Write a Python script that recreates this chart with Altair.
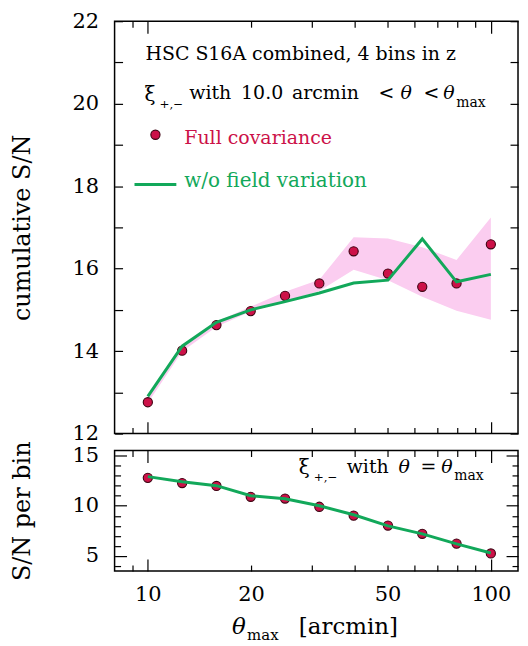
import altair as alt
import pandas as pd

FONT = "DejaVu Serif"

# ---------------- data ----------------
theta_max = [10.0, 12.59, 15.85, 19.95, 25.12, 31.62, 39.81, 50.12, 63.10, 79.43, 100.0]
cum_full = [12.76, 14.01, 14.63, 14.97, 15.34, 15.64, 16.42, 15.88, 15.56, 15.64, 16.59]
cum_nofield = [12.90, 14.12, 14.70, 15.00, 15.20, 15.41, 15.65, 15.72, 16.72, 15.68, 15.86]
band_lo = [12.74, 13.99, 14.59, 14.96, 15.20, 15.46, 15.97, 15.72, 15.32, 14.98, 14.76]
band_hi = [12.90, 14.12, 14.71, 15.08, 15.44, 15.73, 16.76, 16.73, 16.52, 16.21, 17.24]
bin_full = [12.78, 12.26, 11.97, 10.89, 10.72, 9.90, 9.02, 8.03, 7.21, 6.23, 5.25]
bin_nofield = [12.90, 12.40, 12.00, 11.00, 10.70, 10.00, 9.10, 8.00, 7.20, 6.20, 5.30]

x_major = [10, 100]
x_minor = [9, 20, 30, 40, 50, 60, 70, 80, 90]
x_labels = [10, 20, 50, 100]
y_top_ticks = [12, 13, 14, 15, 16, 17, 18, 19, 20, 21, 22]
y_bot_major = [5, 10, 15]
y_bot_minor = [4, 6, 7, 8, 9, 11, 12, 13, 14]

RED = "#cc1148"
RED_EDGE = "#3d0010"
GREEN = "#12a85a"
PINK = "#fbcdf0"

df_top = pd.DataFrame({"theta": theta_max, "full": cum_full, "nofield": cum_nofield,
                       "lo": band_lo, "hi": band_hi})
df_bot = pd.DataFrame({"theta": theta_max, "full": bin_full, "nofield": bin_nofield})
one = pd.DataFrame({"k": [0]})

W, H1, H2 = 405, 414, 121
xscale = alt.Scale(type="log", domain=[8, 120], nice=False)
ys_top = alt.Scale(domain=[12, 22], nice=False, zero=False)
ys_bot = alt.Scale(domain=[3.5, 15.5], nice=False, zero=False)


def tick_axis(orient, values, size, labels=False, **kw):
    return alt.Axis(orient=orient, values=values, tickSize=size, offset=-size,
                    domain=False, grid=False, labels=labels, labelOverlap=False,
                    labelFlush=False, minExtent=0, **kw)


def carrier(df, yfield, yscale, xa, ya):
    return alt.Chart(df).mark_point(opacity=0).encode(
        x=alt.X("theta:Q", scale=xscale, axis=xa),
        y=alt.Y(f"{yfield}:Q", scale=yscale, axis=ya),
    )


def txt(s, x, y, size=19, color="black", style="normal"):
    return alt.Chart(one).mark_text(
        text=s, font=FONT, fontSize=size, fontStyle=style, color=color,
        align="left", baseline="middle"
    ).encode(x=alt.value(x), y=alt.value(y))


# ---------------- top panel ----------------
band = alt.Chart(df_top).mark_area(color=PINK, opacity=1).encode(
    x=alt.X("theta:Q", scale=xscale, axis=None),
    y=alt.Y("lo:Q", scale=ys_top, axis=None),
    y2="hi:Q",
)
pts_top = alt.Chart(df_top).mark_point(
    filled=True, size=85, color=RED, stroke=RED_EDGE, strokeWidth=1.1, opacity=1
).encode(
    x=alt.X("theta:Q", scale=xscale, axis=None),
    y=alt.Y("full:Q", scale=ys_top, axis=None),
)
line_top = alt.Chart(df_top).mark_line(color=GREEN, strokeWidth=3).encode(
    x=alt.X("theta:Q", scale=xscale, axis=None),
    y=alt.Y("nofield:Q", scale=ys_top, axis=None),
)

top_axes = [
    carrier(df_top, "full", ys_top,
            tick_axis("bottom", x_major, 12, title=None),
            tick_axis("left", y_top_ticks, 8, labels=True, title="cumulative S/N",
                      labelExpr="datum.value % 2 == 0 ? datum.label : ''",
                      labelPadding=16, titlePadding=38)),
    carrier(df_top, "full", ys_top,
            tick_axis("bottom", x_minor, 6, title=None),
            tick_axis("right", y_top_ticks, 8, title=None)),
    carrier(df_top, "full", ys_top,
            tick_axis("top", x_major, 12, title=None), None),
    carrier(df_top, "full", ys_top,
            tick_axis("top", x_minor, 6, title=None), None),
]

legend_pt = alt.Chart(one).mark_point(
    filled=True, size=85, color=RED, stroke=RED_EDGE, strokeWidth=1.1, opacity=1
).encode(x=alt.value(41), y=alt.value(114))
legend_ln = alt.Chart(one).mark_rule(color=GREEN, strokeWidth=3).encode(
    x=alt.value(20), x2=alt.value(62), y=alt.value(164))

top_text = [
    txt("HSC S16A combined, 4 bins in z", 31, 33),
    txt("ξ", 30, 74, 20),
    txt("+,−", 45, 83, 12),
    txt("with", 75, 72),
    txt("10.0", 127, 72),
    txt("arcmin", 178, 72),
    txt("<", 265, 72),
    txt("θ", 287, 72, style="italic"),
    txt("<", 310, 72),
    txt("θ", 330, 72, style="italic"),
    txt("max", 343, 82, 14),
    txt("Full covariance", 70, 117, color=RED),
    txt("w/o field variation", 70, 160, 20, color=GREEN),
]

top = alt.layer(band, pts_top, line_top, *top_axes, legend_pt, legend_ln, *top_text).resolve_axis(
    x="independent", y="independent").properties(width=W, height=H1)

# ---------------- bottom panel ----------------
pts_bot = alt.Chart(df_bot).mark_point(
    filled=True, size=85, color=RED, stroke=RED_EDGE, strokeWidth=1.1, opacity=1
).encode(
    x=alt.X("theta:Q", scale=xscale, axis=None),
    y=alt.Y("full:Q", scale=ys_bot, axis=None),
)
line_bot = alt.Chart(df_bot).mark_line(color=GREEN, strokeWidth=3).encode(
    x=alt.X("theta:Q", scale=xscale, axis=None),
    y=alt.Y("nofield:Q", scale=ys_bot, axis=None),
)

bot_axes = [
    carrier(df_bot, "full", ys_bot,
            tick_axis("bottom", x_labels, 12, labels=True, title=None, format="d",
                      labelPadding=13,
                      tickOpacity={"condition": {"test": "datum.value == 20 || datum.value == 50",
                                                 "value": 0}, "value": 1}),
            tick_axis("left", y_bot_major, 12, labels=True, title="S/N per bin",
                      labelPadding=16, titlePadding=38)),
    carrier(df_bot, "full", ys_bot,
            tick_axis("bottom", x_minor, 6, title=None),
            tick_axis("left", y_bot_minor, 6, title=None)),
    carrier(df_bot, "full", ys_bot,
            tick_axis("top", x_major, 12, title=None),
            tick_axis("right", y_bot_major, 12, title=None)),
    carrier(df_bot, "full", ys_bot,
            tick_axis("top", x_minor, 6, title=None),
            tick_axis("right", y_bot_minor, 6, title=None)),
]

bot_text = [
    txt("ξ", 185, 18, 20),
    txt("+,−", 200, 27, 12),
    txt("with", 233, 17),
    txt("θ", 285, 17, style="italic"),
    txt("=", 307, 17),
    txt("θ", 328, 17, style="italic"),
    txt("max", 341, 26, 14),
    # x-axis title
    txt("θ", 118, 177, 23, style="italic"),
    txt("max", 133, 185, 15),
    txt("[arcmin]", 185, 177, 23),
]

bottom = alt.layer(pts_bot, line_bot, *bot_axes, *bot_text).resolve_axis(
    x="independent", y="independent").properties(width=W, height=H2)

chart = alt.vconcat(top, bottom, spacing=17, bounds="flush").properties(
    padding={"left": 1, "top": 0, "right": 0, "bottom": 0}
).configure_view(
    stroke="black", strokeWidth=1.5
).configure_axis(
    tickColor="black", tickWidth=1.2, labelFont=FONT, labelFontSize=21,
    labelColor="black", titleFont=FONT, titleFontSize=24, titleFontWeight="normal",
    titleColor="black"
)

chart.save("out.html", embed_options={"renderer": "svg", "actions": False})
